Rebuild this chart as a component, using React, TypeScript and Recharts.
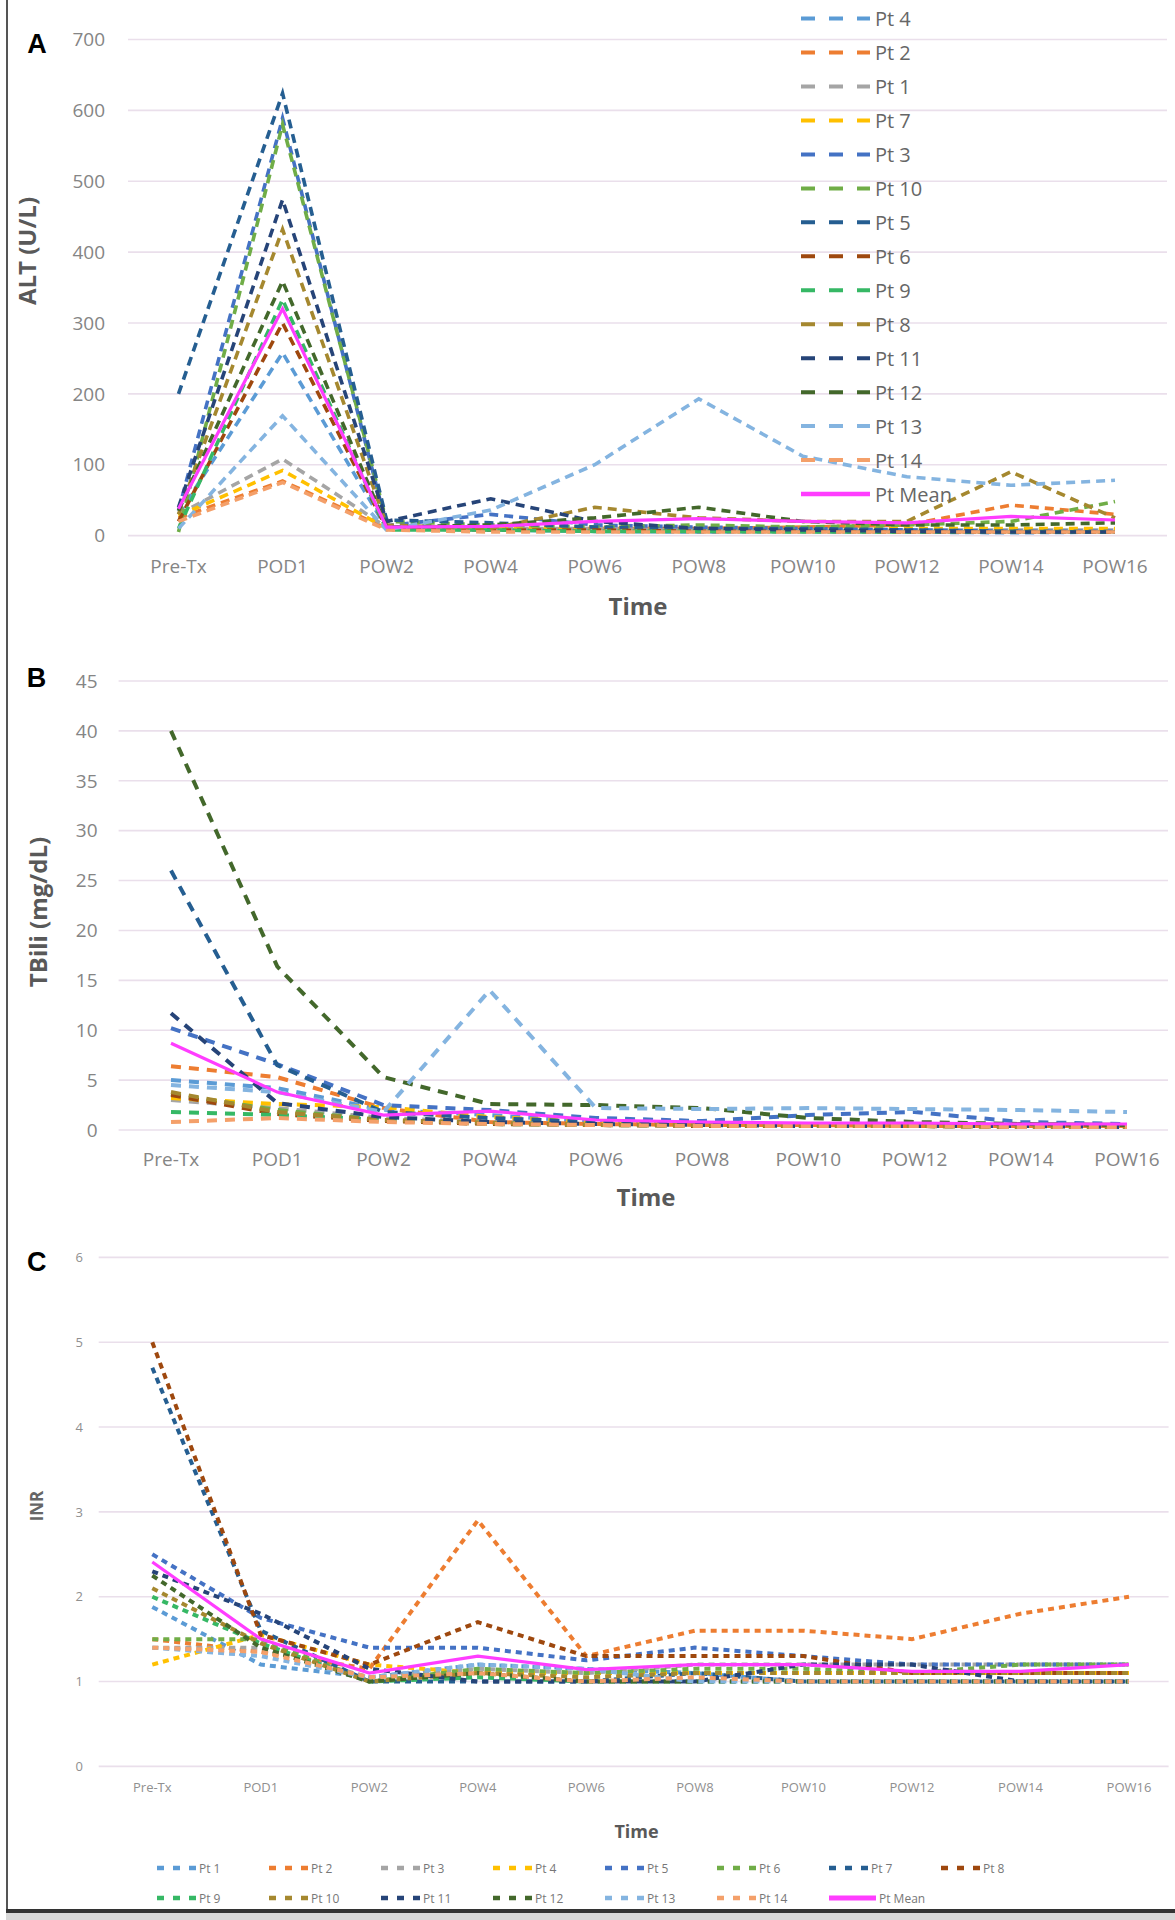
import React from "react";
import { LineChart, Line, XAxis, YAxis, CartesianGrid } from "recharts";

const CATS = ["Pre-Tx", "POD1", "POW2", "POW4", "POW6", "POW8", "POW10", "POW12", "POW14", "POW16"];

// Office-like series colours, by series position
const PALETTE = [
  "#5b9bd5", "#ed7d31", "#a5a5a5", "#ffc000", "#4472c4", "#70ad47", "#255e91",
  "#9e480e", "#36b865", "#a5882f", "#264478", "#43682b", "#84b4e0", "#f4a06a",
];
const MEAN_COLOR = "#ff3dff";

// A: ALT (U/L), series in legend order
const ALT_NAMES = ["Pt 4", "Pt 2", "Pt 1", "Pt 7", "Pt 3", "Pt 10", "Pt 5", "Pt 6", "Pt 9", "Pt 8", "Pt 11", "Pt 12", "Pt 13", "Pt 14"];
const ALT = [
  [30, 258, 10, 8, 6, 5, 6, 5, 4, 5],
  [25, 77, 10, 8, 10, 10, 12, 15, 43, 30],
  [30, 108, 12, 10, 10, 8, 8, 8, 8, 8],
  [28, 92, 10, 12, 12, 10, 10, 10, 10, 10],
  [35, 589, 14, 30, 15, 12, 10, 8, 6, 6],
  [5, 580, 20, 15, 12, 15, 12, 15, 20, 48],
  [200, 624, 22, 18, 12, 10, 10, 8, 6, 5],
  [20, 300, 10, 8, 8, 6, 6, 5, 5, 5],
  [10, 333, 8, 8, 6, 6, 5, 5, 5, 5],
  [30, 432, 15, 10, 40, 25, 20, 20, 90, 25],
  [40, 474, 20, 52, 20, 10, 8, 6, 5, 5],
  [35, 359, 12, 15, 25, 40, 20, 15, 15, 18],
  [10, 169, 8, 36, 100, 193, 112, 83, 71, 78],
  [20, 75, 8, 5, 5, 5, 5, 5, 5, 5],
];
const ALT_MEAN = [38, 320, 12, 13, 20, 24, 20, 18, 27, 22];
const ALT_TICKS = [0, 100, 200, 300, 400, 500, 600, 700];

// B: TBili (mg/dL)
const TBILI = [
  [5.0, 4.2, 2.0, 1.5, 0.8, 0.6, 0.5, 0.5, 0.5, 0.4],
  [6.4, 5.3, 2.2, 0.8, 0.6, 0.5, 0.5, 0.4, 0.4, 0.4],
  [3.0, 2.2, 1.2, 0.8, 0.6, 0.5, 0.5, 0.5, 0.4, 0.4],
  [3.2, 2.6, 2.3, 1.3, 0.8, 0.6, 0.5, 0.5, 0.4, 0.4],
  [10.2, 6.6, 2.5, 2.0, 1.2, 0.9, 1.5, 1.8, 0.8, 0.6],
  [3.6, 2.0, 1.0, 0.7, 0.5, 0.5, 0.4, 0.4, 0.4, 0.3],
  [26, 6.5, 1.8, 1.2, 0.8, 0.6, 0.5, 0.5, 0.5, 0.4],
  [3.5, 1.6, 0.9, 0.6, 0.5, 0.4, 0.4, 0.4, 0.3, 0.3],
  [1.8, 1.5, 1.0, 0.6, 0.5, 0.4, 0.4, 0.4, 0.3, 0.3],
  [3.8, 1.8, 1.0, 0.7, 0.5, 0.5, 0.4, 0.4, 0.3, 0.3],
  [11.7, 2.7, 1.3, 0.8, 0.6, 0.5, 0.4, 0.4, 0.4, 0.3],
  [40, 16.4, 5.3, 2.6, 2.5, 2.2, 1.2, 0.8, 0.6, 0.5],
  [4.5, 3.8, 1.8, 14, 2.2, 2.1, 2.2, 2.1, 2.0, 1.8],
  [0.8, 1.2, 0.8, 0.6, 0.5, 0.4, 0.4, 0.4, 0.3, 0.3],
];
const TBILI_MEAN = [8.7, 3.8, 1.5, 1.9, 1.0, 0.8, 0.7, 0.7, 0.6, 0.6];
const TBILI_TICKS = [0, 5, 10, 15, 20, 25, 30, 35, 40, 45];

// C: INR
const INR_NAMES = ["Pt 1", "Pt 2", "Pt 3", "Pt 4", "Pt 5", "Pt 6", "Pt 7", "Pt 8", "Pt 9", "Pt 10", "Pt 11", "Pt 12", "Pt 13", "Pt 14"];
const INR = [
  [1.88, 1.2, 1.05, 1.2, 1.15, 1.1, 1.0, 1.0, 1.0, 1.0],
  [1.5, 1.35, 1.15, 2.9, 1.3, 1.6, 1.6, 1.5, 1.8, 2.0],
  [1.4, 1.4, 1.05, 1.15, 1.1, 1.2, 1.2, 1.2, 1.2, 1.2],
  [1.2, 1.55, 1.2, 1.1, 1.1, 1.1, 1.1, 1.1, 1.1, 1.1],
  [2.5, 1.75, 1.4, 1.4, 1.25, 1.4, 1.3, 1.2, 1.2, 1.2],
  [1.5, 1.5, 1.0, 1.15, 1.1, 1.15, 1.15, 1.1, 1.2, 1.2],
  [4.7, 1.6, 1.0, 1.0, 1.0, 1.1, 1.0, 1.0, 1.0, 1.0],
  [5.0, 1.55, 1.2, 1.7, 1.3, 1.3, 1.3, 1.1, 1.1, 1.1],
  [2.0, 1.45, 1.0, 1.05, 1.0, 1.0, 1.0, 1.0, 1.0, 1.0],
  [2.1, 1.45, 1.0, 1.1, 1.05, 1.1, 1.1, 1.1, 1.1, 1.1],
  [2.3, 1.8, 1.15, 1.0, 1.0, 1.0, 1.2, 1.2, 1.0, 1.0],
  [2.25, 1.4, 1.0, 1.1, 1.0, 1.0, 1.0, 1.0, 1.0, 1.0],
  [1.4, 1.3, 1.05, 1.2, 1.15, 1.0, 1.0, 1.0, 1.0, 1.0],
  [1.4, 1.35, 1.05, 1.1, 1.0, 1.05, 1.0, 1.0, 1.0, 1.0],
];
const INR_MEAN = [2.41, 1.5, 1.1, 1.3, 1.14, 1.2, 1.2, 1.12, 1.12, 1.2];
const INR_TICKS = [0, 1, 2, 3, 4, 5, 6];

const W = 1175;
const FONT = '"Open Sans", sans-serif';
const GRID = "#eadfeb";

function Panel(props: any) {
  const { top, height, left, right, plotTop, plotBottom, pad, values, mean, ticks, dash, sw, fontSize, tickFill, yGap, xGap } = props;
  const data = CATS.map((cat, i) => {
    const row: any = { cat, mean: mean[i] };
    values.forEach((v: number[], j: number) => (row["s" + j] = v[i]));
    return row;
  });
  const tick = { fill: tickFill, fontSize, fontFamily: FONT };
  return (
    <div style={{ position: "absolute", left: 0, top }}>
      <LineChart
        width={W}
        height={height}
        data={data}
        margin={{ top: plotTop, right: W - right, left: 0, bottom: 0 }}
      >
        <CartesianGrid vertical={false} stroke={GRID} strokeWidth={1.6} />
        <XAxis
          dataKey="cat"
          interval={0}
          axisLine={false}
          tickLine={false}
          tickSize={0}
          tickMargin={xGap}
          height={height - plotBottom}
          padding={{ left: pad[0], right: pad[1] }}
          tick={tick}
        />
        <YAxis
          domain={[0, ticks[ticks.length - 1]]}
          ticks={ticks}
          width={left}
          axisLine={false}
          tickLine={false}
          tickSize={0}
          tickMargin={yGap}
          tick={tick}
        />
        {values.map((_: any, j: number) => (
          <Line
            key={j}
            dataKey={"s" + j}
            type="linear"
            stroke={PALETTE[j]}
            strokeWidth={sw}
            strokeDasharray={dash}
            dot={false}
            isAnimationActive={false}
          />
        ))}
        <Line dataKey="mean" type="linear" stroke={MEAN_COLOR} strokeWidth={3.2} dot={false} isAnimationActive={false} />
      </LineChart>
    </div>
  );
}

function Txt({ x, y, size, rotate, color = "#595959", bold = true, family = FONT, children }: any) {
  return (
    <div
      style={{
        position: "absolute",
        left: x,
        top: y,
        transform: `translate(-50%, -50%)${rotate ? ` rotate(${rotate}deg)` : ""}`,
        fontSize: size,
        fontWeight: bold ? 700 : 400,
        color,
        fontFamily: family,
        whiteSpace: "nowrap",
        lineHeight: 1,
      }}
    >
      {children}
    </div>
  );
}

function SideLegend() {
  const items = [
    ...ALT_NAMES.map((n, i) => ({ name: n, color: PALETTE[i], dash: true })),
    { name: "Pt Mean", color: MEAN_COLOR, dash: false },
  ];
  return (
    <svg style={{ position: "absolute", left: 790, top: 0 }} width={220} height={520}>
      {items.map((it, i) => {
        const y = 18.6 + i * 33.96;
        return (
          <g key={it.name}>
            <line x1={11} x2={80} y1={y} y2={y} stroke={it.color} strokeWidth={it.dash ? 4 : 4.5} strokeDasharray={it.dash ? "14 14" : undefined} />
            <text x={85} y={y} dominantBaseline="central" fontSize={20} fill="#666" fontFamily={FONT}>
              {it.name}
            </text>
          </g>
        );
      })}
    </svg>
  );
}

function BottomLegend() {
  const items = [
    ...INR_NAMES.map((n, i) => ({ name: n, color: PALETTE[i], dash: true })),
    { name: "Pt Mean", color: MEAN_COLOR, dash: false },
  ];
  return (
    <svg style={{ position: "absolute", left: 0, top: 1850 }} width={W} height={60}>
      {items.map((it, i) => {
        const x = 157 + (i % 8) * 112;
        const y = i < 8 ? 18 : 48;
        return (
          <g key={it.name}>
            <line x1={x} x2={x + (it.dash ? 39 : 47)} y1={y} y2={y} stroke={it.color} strokeWidth={it.dash ? 4.5 : 5} strokeDasharray={it.dash ? "7 9" : undefined} />
            <text x={x + (it.dash ? 42 : 50)} y={y} dominantBaseline="central" fontSize={12} fill="#777" fontFamily={FONT}>
              {it.name}
            </text>
          </g>
        );
      })}
    </svg>
  );
}

export default function App() {
  return (
    <div style={{ position: "absolute", left: 0, top: 0, width: W, height: 1920, background: "#fff", overflow: "hidden" }}>
      <div style={{ position: "absolute", left: 6, top: 0, width: 2, height: 1912, background: "#555" }} />
      <div style={{ position: "absolute", left: 6, top: 1909, width: W - 6, height: 4, background: "#333" }} />
      <div style={{ position: "absolute", left: 6, top: 1913, width: W - 6, height: 7, background: "#d8d8d8" }} />

      <Panel
        top={0} height={640} left={128} right={1167} plotTop={39.5} plotBottom={535.6} pad={[50.5, 52]}
        values={ALT} mean={ALT_MEAN} ticks={ALT_TICKS} dash="9 6" sw={3.6}
        fontSize={19} tickFill="#858585" yGap={23} xGap={23.7}
      />
      <SideLegend />
      <Txt x={37} y={43.5} size={27} color="#000" family='"Liberation Sans", Arial, sans-serif'>A</Txt>
      <Txt x={27} y={251} size={24} rotate={-90}>ALT (U/L)</Txt>
      <Txt x={638} y={606} size={24}>Time</Txt>

      <Panel
        top={640} height={560} left={118.6} right={1168} plotTop={41} plotBottom={490} pad={[52.4, 41]}
        values={TBILI} mean={TBILI_MEAN} ticks={TBILI_TICKS} dash="10 8" sw={4}
        fontSize={19} tickFill="#858585" yGap={21} xGap={22.3}
      />
      <Txt x={36.4} y={678} size={27} color="#000" family='"Liberation Sans", Arial, sans-serif'>B</Txt>
      <Txt x={37.5} y={912} size={24} rotate={-90}>TBili (mg/dL)</Txt>
      <Txt x={646} y={1197} size={24}>Time</Txt>

      <Panel
        top={1200} height={620} left={98.7} right={1168.6} plotTop={57.4} plotBottom={566.4} pad={[53.6, 39.6]}
        values={INR} mean={INR_MEAN} ticks={INR_TICKS} dash="6 5" sw={4}
        fontSize={13} tickFill="#8f8f8f" yGap={15.7} xGap={16.2}
      />
      <Txt x={36.7} y={1262} size={27} color="#000" family='"Liberation Sans", Arial, sans-serif'>C</Txt>
      <Txt x={35.6} y={1506} size={17} rotate={-90} color="#666">INR</Txt>
      <Txt x={636.5} y={1831} size={18}>Time</Txt>
      <BottomLegend />
    </div>
  );
}
